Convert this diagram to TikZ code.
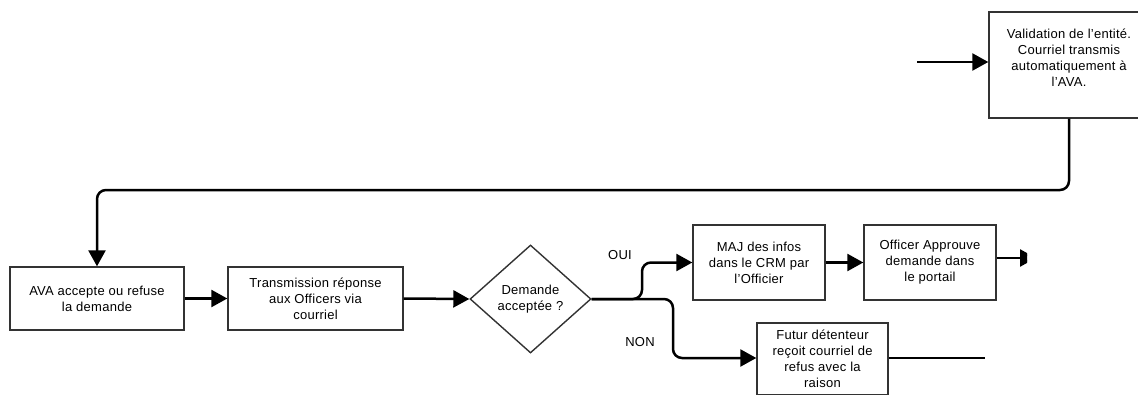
\documentclass[tikz,border=0pt]{standalone}
\usepackage{fontspec}
\setmainfont{Liberation Sans}[LetterSpace=2]
\usetikzlibrary{arrows.meta,shapes.geometric}
\begin{document}
\begin{tikzpicture}[x=1pt,y=-1pt,
  box/.style={draw=black!80, line width=1.4pt, fill=white, inner sep=0pt, align=center},
  conn/.style={line width=2.5pt, black, rounded corners=9pt},
  arr/.style={conn, -{Triangle[length=16pt,width=17pt]}},
  every node/.append style={font=\fontsize{13}{16}\selectfont}]
\useasboundingbox (0,0) rectangle (1138,394);
\clip (0,0) rectangle (1138,394);
% nodes
\node[box, minimum width=160pt, minimum height=106pt] (val) at (1069,65) {};
\node[align=center] (valt) at (1069,58) {Validation de l'entité.\\Courriel transmis\\automatiquement à\\l'AVA.};
\coordinate (vin) at (917,62);
\node[box, minimum width=174pt, minimum height=63pt] (ava) at (97,298.5) {AVA accepte ou refuse\\la demande};
\node[box, minimum width=175pt, minimum height=63pt] (tra) at (315.5,298.5) {Transmission réponse\\aux Officers via\\courriel};
\node[draw=black!80, line width=1.4pt, diamond, minimum width=121pt, minimum height=108pt, inner sep=0pt, align=center] (dec) at (530.5,299) {Demande\\acceptée ?};
\node[box, minimum width=132pt, minimum height=75pt] (maj) at (759,262.5) {MAJ des infos\\dans le CRM par\\l'Officier};
\node[box, minimum width=132pt, minimum height=75pt] (off) at (930,262.5) {Officer Approuve\\demande dans\\le portail};
\node[box, minimum width=131pt, minimum height=72pt] (fut) at (822.5,359) {Futur détenteur\\reçoit courriel de\\refus avec la\\raison};
\coordinate (offout) at (1036,258);
\coordinate (futout) at (985,358);
\node (oui) at (620,255) {OUI};
\node (non) at (640,342) {NON};
% connectors
\draw[arr] (vin) -- (val.west |- vin);
\draw[arr] (val.south) -- (val.south |- 0,190) -- (ava.north |- 0,190) -- (ava.north);
\draw[arr] (ava.east) -- (tra.west);
\draw[arr] (tra.east) -- (dec.west);
\draw[arr] (dec.east) -- (642,299) -- (642,262.5) -- (maj.west);
\draw[arr] (dec.east) -- (673,299) -- (673,358) -- (fut.west |- 0,358);
\draw[arr] (maj.east) -- (off.west);
\begin{scope}
\clip (990,240) rectangle (1027,280);
\draw[arr] (off.east |- offout) -- (offout);
\end{scope}
\draw[conn] (fut.east |- futout) -- (futout);
\end{tikzpicture}
\end{document}
